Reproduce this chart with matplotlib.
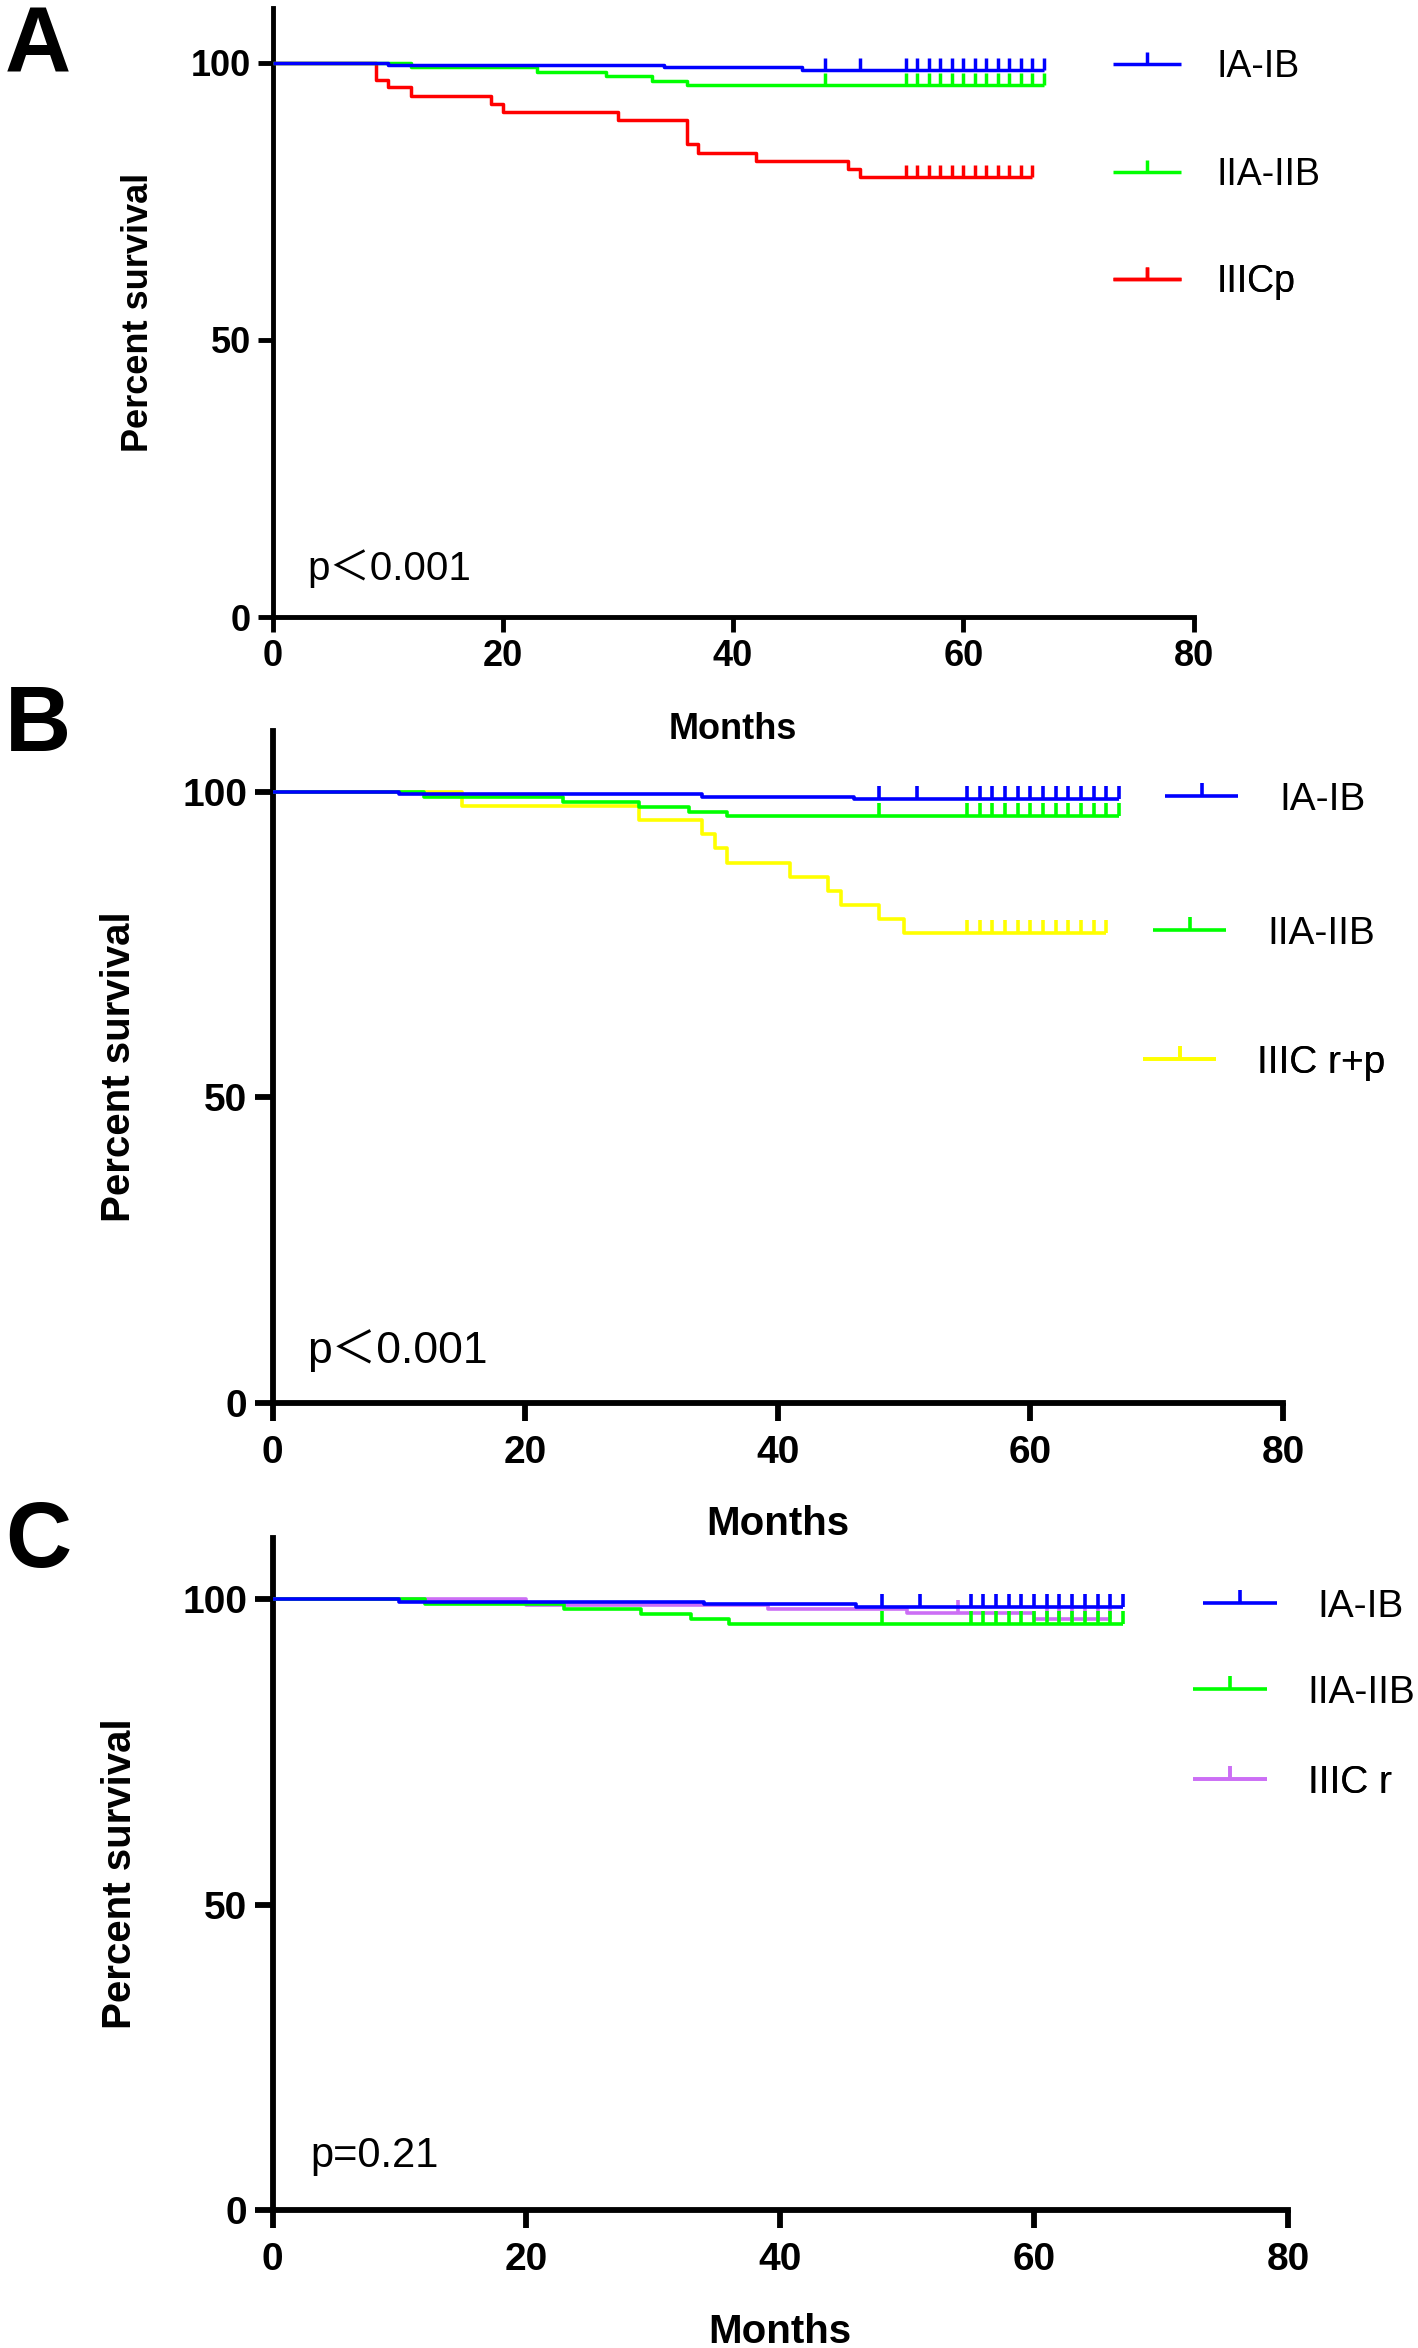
import matplotlib
matplotlib.use("Agg")
import matplotlib.pyplot as plt
from matplotlib.path import Path
from matplotlib.markers import MarkerStyle
from matplotlib.lines import Line2D

plt.rcParams['font.family'] = ['Liberation Sans', 'DejaVu Sans']

# ---------------- data ----------------
groups_A = ["IA-IB", "IIA-IIB", "IIICp"]
groups_B = ["IA-IB", "IIA-IIB", "IIIC r+p"]
groups_C = ["IA-IB", "IIA-IIB", "IIIC r"]

# Panel A
A_blue_t = [0, 10, 34, 46, 67]
A_blue_s = [100, 99.6, 99.2, 98.8, 98.8]
A_blue_c = [48, 51, 55, 56, 57, 58, 59, 60, 61, 62, 63, 64, 65, 66, 67]
A_green_t = [0, 12, 23, 29, 33, 36, 67]
A_green_s = [100, 99.2, 98.4, 97.6, 96.8, 96.1, 96.1]
A_green_c = [48, 55, 56, 57, 58, 59, 60, 61, 62, 63, 64, 65, 66, 67]
A_red_t = [0, 9, 10, 12, 19, 20, 30, 36, 37, 42, 50, 51, 66]
A_red_s = [100, 97.0, 95.6, 94.1, 92.6, 91.2, 89.7, 85.3, 83.8, 82.3, 80.8, 79.4, 79.4]
A_red_c = [55, 56, 57, 58, 59, 60, 61, 62, 63, 64, 65, 66]

# Panel B
B_blue_t = [0, 10, 34, 46, 67]
B_blue_s = [100, 99.6, 99.2, 98.8, 98.8]
B_blue_c = [48, 51, 55, 56, 57, 58, 59, 60, 61, 62, 63, 64, 65, 66, 67]
B_green_t = [0, 12, 23, 29, 33, 36, 67]
B_green_s = [100, 99.2, 98.4, 97.6, 96.8, 96.0, 96.0]
B_green_c = [48, 55, 56, 57, 58, 59, 60, 61, 62, 63, 64, 65, 66, 67]
B_yellow_t = [0, 15, 29, 34, 35, 36, 41, 44, 45, 48, 50, 66]
B_yellow_s = [100, 97.7, 95.4, 93.1, 90.8, 88.4, 86.1, 83.8, 81.5, 79.2, 76.9, 76.9]
B_yellow_c = [55, 56, 57, 58, 59, 60, 61, 62, 63, 64, 65, 66]

# Panel C
C_blue_t = [0, 10, 34, 46, 67]
C_blue_s = [100, 99.6, 99.2, 98.8, 98.8]
C_blue_c = [48, 51, 55, 56, 57, 58, 59, 60, 61, 62, 63, 64, 65, 66, 67]
C_green_t = [0, 12, 23, 29, 33, 36, 67]
C_green_s = [100, 99.2, 98.4, 97.6, 96.8, 96.0, 96.0]
C_green_c = [48, 55, 56, 57, 58, 59, 60, 61, 62, 63, 64, 65, 66, 67]
C_purple_t = [0, 20, 39, 50, 60, 66]
C_purple_s = [100, 99.1, 98.4, 97.7, 96.7, 96.7]
C_purple_c = [54, 61, 62, 63, 64, 65, 66]

p_texts = ["p\uff1c0.001", "p\uff1c0.001", "p=0.21"]
x_ticks = [0, 20, 40, 60, 80]
y_ticks = [0, 50, 100]

# ---------------- style ----------------
BLUE, GREEN, RED, YELLOW, PURPLE = "#0000FF", "#00FF00", "#FF0000", "#FFFF00", "#CC6EF5"
tick_marker = MarkerStyle(Path([(0, 0), (0, 1)], [Path.MOVETO, Path.LINETO]))

W, H = 1418, 2348
fig = plt.figure(figsize=(W / 100, H / 100), dpi=100)


def fx(px):
    return px / W


def fy(py):
    return 1 - py / H


def km(ax, t, s, cens, color, lw, ms):
    ax.plot(t, s, drawstyle="steps-post", color=color, lw=lw, solid_capstyle="butt",
            clip_on=False, zorder=3)
    cs = []
    for c in cens:
        val = s[0]
        for ti, si in zip(t, s):
            if ti <= c:
                val = si
        cs.append(val)
    ax.plot(cens, cs, linestyle="none", marker=tick_marker, markersize=ms,
            markeredgecolor=color, markerfacecolor="none", markeredgewidth=lw,
            clip_on=False, zorder=3)


def style_axes(ax, spine_lw, tick_len, tick_fs, lab_fs, ylab_x, xlab_y, xpad, ypad):
    ax.patch.set_visible(False)
    for sp in ["top", "right"]:
        ax.spines[sp].set_visible(False)
    for sp in ["left", "bottom"]:
        ax.spines[sp].set_linewidth(spine_lw)
    ax.set_xlim(0, 80)
    ax.set_ylim(0, 110)
    ax.set_xticks(x_ticks)
    ax.set_yticks(y_ticks)
    ax.tick_params(direction="out", length=tick_len, width=spine_lw, labelsize=tick_fs)
    ax.tick_params(axis="x", pad=xpad)
    ax.tick_params(axis="y", pad=ypad)
    for lbl in ax.get_xticklabels() + ax.get_yticklabels():
        lbl.set_fontweight("bold")
    ax.set_xlabel("Months", fontsize=lab_fs, fontweight="bold")
    ax.set_ylabel("Percent survival", fontsize=lab_fs, fontweight="bold")
    ax.yaxis.set_label_coords(ylab_x, 0.5)
    ax.xaxis.set_label_coords(0.5, xlab_y)


def legend_entry(ax, label, color, lw, ms, x_px, y_px, fs, hl, pad):
    h = Line2D([], [], color=color, lw=lw, marker=tick_marker, markersize=ms,
               markeredgecolor=color, markerfacecolor="none", markeredgewidth=lw,
               solid_capstyle="butt")
    leg = ax.legend(handles=[h], labels=[label], loc="center left",
                    bbox_to_anchor=(fx(x_px), fy(y_px)), bbox_transform=fig.transFigure,
                    frameon=False, borderpad=0, borderaxespad=0, handlelength=hl,
                    handletextpad=pad, fontsize=fs, numpoints=1)
    ax.add_artist(leg)


# ---------------- Panel A ----------------
axA = fig.add_axes([0.1922, 0.7372, 0.6495, 0.2596])
lwA, msA = 2.5, 17.3
km(axA, A_red_t, A_red_s, A_red_c, RED, lwA, msA)
km(axA, A_green_t, A_green_s, A_green_c, GREEN, lwA, msA)
km(axA, A_blue_t, A_blue_s, A_blue_c, BLUE, lwA, msA)
style_axes(axA, 3.5, 10.5, 26, 26, -0.127, -0.155, 5, 5)
axA.text(3.0, 8.7, p_texts[0], fontsize=29, va="center", ha="left",
         family=["Liberation Sans", "Noto Sans CJK SC"])
for lab, col, yp in zip(groups_A, [BLUE, GREEN, RED], [67, 175, 282]):
    legend_entry(axA, lab, col, lwA, msA, 1113, yp, 27, 1.81, 0.96)

# ---------------- Panel B ----------------
axB = fig.add_axes([0.1922, 0.4025, 0.7126, 0.2862])
lwB, msB = 2.6, 18.7
km(axB, B_yellow_t, B_yellow_s, B_yellow_c, YELLOW, lwB, msB)
km(axB, B_green_t, B_green_s, B_green_c, GREEN, lwB, msB)
km(axB, B_blue_t, B_blue_s, B_blue_c, BLUE, lwB, msB)
style_axes(axB, 4.2, 13, 28, 29, -0.133, -0.152, 10, 5)
axB.text(2.7, 8.5, p_texts[1], fontsize=32, va="center", ha="left",
         family=["Liberation Sans", "Noto Sans CJK SC"])
for lab, col, xp, yp in zip(groups_B, [BLUE, GREEN, YELLOW], [1165, 1153, 1143], [800, 934, 1063]):
    legend_entry(axB, lab, col, lwB, msB, xp, yp, 28, 1.88, 1.05)

# ---------------- Panel C ----------------
axC = fig.add_axes([0.1922, 0.0587, 0.7161, 0.2862])
km(axC, C_purple_t, C_purple_s, C_purple_c, PURPLE, lwB, msB)
km(axC, C_green_t, C_green_s, C_green_c, GREEN, lwB, msB)
km(axC, C_blue_t, C_blue_s, C_blue_c, BLUE, lwB, msB)
style_axes(axC, 4.2, 13, 28, 29, -0.132, -0.153, 10, 5)
axC.text(2.95, 8.8, p_texts[2], fontsize=30, va="center", ha="left")
for lab, col, xp, yp in zip(groups_C, [BLUE, GREEN, PURPLE], [1203, 1193, 1193], [1607, 1693, 1783]):
    legend_entry(axC, lab, col, lwB, msB, xp, yp, 28, 1.9, 1.05)

# panel letters
for letter, (lx, ly) in zip(["A", "B", "C"], [(5, 5), (5, 684), (5, 1500)]):
    fig.text(fx(lx), fy(ly), letter, fontsize=66, fontweight="bold", ha="left", va="top")

fig.savefig("out.png", dpi=100)
